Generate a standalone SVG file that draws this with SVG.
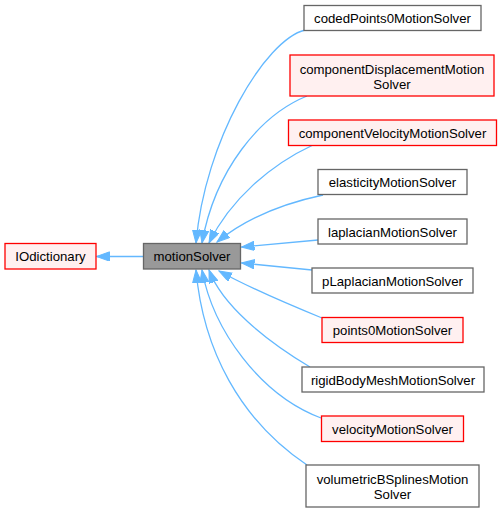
<svg xmlns="http://www.w3.org/2000/svg" width="502" height="512" viewBox="0 0 502 512">
<defs>
<style>
.n rect{fill:#ffffff;stroke:#666666;stroke-width:1.3}
.r rect{fill:#fff0f0;stroke:#ff0000;stroke-width:1.3}
.g rect{fill:#999999;stroke:#666666;stroke-width:1.3}
text{font-family:"Liberation Sans",Arial,Helvetica,sans-serif;font-size:13.2px;fill:#000000;text-anchor:middle}
.e path{fill:none;stroke:#63b8ff;stroke-width:1.3;marker-end:url(#a)}
</style>
<marker id="a" markerUnits="userSpaceOnUse" markerWidth="14" markerHeight="10" refX="13" refY="4.65" orient="auto">
<path d="M0,0 L13,4.65 L0,9.3 z" fill="#63b8ff" stroke="#63b8ff" stroke-width="1"/>
</marker>
</defs>
<g class="e" id="connectors">
<path d="M143,256.5 L96.5,256.5"/>
<path d="M305,30 C265,40 205,140 196,243"/>
<path d="M307,96 C260,115 215,170 202,243"/>
<path d="M313,145 C270,165 230,200 209,243"/>
<path d="M323,195 C290,202 250,215 217,242"/>
<path d="M318,240 L241.5,247"/>
<path d="M312,270 L241.5,263"/>
<path d="M322,318 C290,305 250,288 219,271"/>
<path d="M310,367 C265,340 222,305 209,270"/>
<path d="M321,418 C260,395 213,330 202,270"/>
<path d="M307,465 C240,420 203,350 196,270"/>
</g>
<g id="IOdictionary" class="r"><rect x="5" y="243.5" width="91" height="25.5"/><text x="50.5" y="261">IOdictionary</text></g>
<g id="motionSolver" class="g"><rect x="143.5" y="243.5" width="97" height="25.5"/><text x="192" y="261">motionSolver</text></g>
<g id="codedPoints0MotionSolver" class="n"><rect x="304" y="5.5" width="177" height="25"/><text x="392.5" y="23">codedPoints0MotionSolver</text></g>
<g id="componentDisplacementMotionSolver" class="r"><rect x="290" y="55" width="204" height="41"/><text x="392" y="74">componentDisplacementMotion</text><text x="392" y="88.5">Solver</text></g>
<g id="componentVelocityMotionSolver" class="r"><rect x="288.5" y="120" width="208" height="25.5"/><text x="392.5" y="137.5">componentVelocityMotionSolver</text></g>
<g id="elasticityMotionSolver" class="n"><rect x="318" y="169.5" width="149" height="25"/><text x="392.5" y="187">elasticityMotionSolver</text></g>
<g id="laplacianMotionSolver" class="n"><rect x="318" y="219" width="149" height="25"/><text x="392.5" y="236.5">laplacianMotionSolver</text></g>
<g id="pLaplacianMotionSolver" class="n"><rect x="312" y="268" width="161" height="25"/><text x="392.5" y="285.5">pLaplacianMotionSolver</text></g>
<g id="points0MotionSolver" class="r"><rect x="322" y="317.5" width="141" height="25"/><text x="392.5" y="335">points0MotionSolver</text></g>
<g id="rigidBodyMeshMotionSolver" class="n"><rect x="302" y="367" width="182" height="25"/><text x="393" y="384.5">rigidBodyMeshMotionSolver</text></g>
<g id="velocityMotionSolver" class="r"><rect x="321.5" y="416" width="142" height="25.5"/><text x="392.5" y="433.5">velocityMotionSolver</text></g>
<g id="volumetricBSplinesMotionSolver" class="n"><rect x="306" y="465" width="173" height="42"/><text x="392.5" y="484">volumetricBSplinesMotion</text><text x="392.5" y="498.5">Solver</text></g>
</svg>
